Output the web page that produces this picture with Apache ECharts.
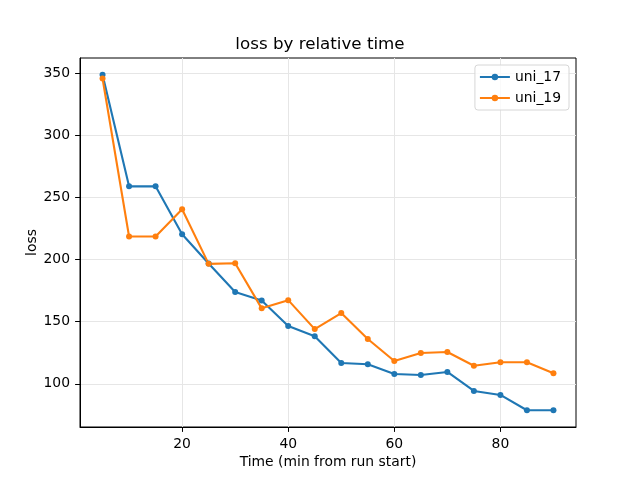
<!DOCTYPE html>
<html>
<head>
<meta charset="utf-8">
<script src="https://cdn.jsdelivr.net/npm/echarts@6/dist/echarts.min.js"></script>
<style>html,body{margin:0;padding:0;background:#fff}#c{width:640px;height:480px}</style>
</head>
<body>
<div id="c"></div>
<script>
var times = [5,10,15,20,25,30,35,40,45,50,55,60,65,70,75,80,85,90];
var uni17 = [348.7,258.9,258.9,220.4,196.8,173.8,167.1,146.5,138.2,116.7,115.7,107.9,107.0,109.5,94.2,91.0,78.7,78.7];
var uni19 = [345.7,218.5,218.5,240.5,196.5,197.0,160.7,167.3,144.0,156.9,136.0,118.3,124.8,125.6,114.5,117.3,117.3,108.4];
var xTicks = [20,40,60,80];
var yTicks = [100,150,200,250,300,350];
var seriesNames = ['uni_17','uni_19'];
var colors = ['#1f77b4','#ff7f0e'];

function pairs(xs, ys){ return xs.map(function(x,i){ return [x, ys[i]]; }); }
var allY = uni17.concat(uni19);
var yMin = Math.min.apply(null, allY), yMax = Math.max.apply(null, allY);
var yPad = (yMax - yMin) * 0.05;
var xMin = Math.min.apply(null, times), xMax = Math.max.apply(null, times);
var xPad = (xMax - xMin) * 0.05;
var font = 'DejaVu Sans';

var chart = echarts.init(document.getElementById('c'), null, {renderer:'canvas'});
chart.setOption({
  animation:false,
  backgroundColor:'#ffffff',
  textStyle:{fontFamily:font},
  title:{text:'loss by relative time', left:'center', top:31,
    textStyle:{fontFamily:font, fontSize:16.7, fontWeight:'normal', color:'#000'}},
  legend:{
    orient:'vertical', right:71, top:65,
    data:seriesNames,
    backgroundColor:'rgba(255,255,255,0.8)', borderColor:'#d6d6d6', borderWidth:1, borderRadius:3,
    padding:[5,8,5,4], itemWidth:30, itemHeight:8, itemGap:7,
    textStyle:{fontFamily:font, fontSize:13.9, color:'#000'}
  },
  grid:{left:80, right:64, top:58, bottom:53, show:true, borderColor:'#000', borderWidth:1, backgroundColor:'transparent'},
  xAxis:{
    type:'value', min:xMin - xPad, max:xMax + xPad,
    name:'Time (min from run start)', nameLocation:'middle', nameGap:28, nameMoveOverlap:false,
    nameTextStyle:{fontFamily:font, fontSize:13.9, color:'#000'},
    axisLine:{show:true, lineStyle:{color:'#000', width:1}},
    axisTick:{show:true, length:4.9, lineStyle:{color:'#000'}, customValues:xTicks},
    axisLabel:{fontFamily:font, fontSize:13.9, color:'#000', margin:10, customValues:xTicks},
    splitLine:{show:true, lineStyle:{color:'#e6e6e6', width:1}}
  },
  yAxis:{
    type:'value', min:yMin - yPad, max:yMax + yPad,
    name:'loss', nameLocation:'middle', nameGap:41, nameMoveOverlap:false,
    nameTextStyle:{fontFamily:font, fontSize:13.9, color:'#000'},
    axisLine:{show:true, lineStyle:{color:'#000', width:1}},
    axisTick:{show:true, length:4.9, lineStyle:{color:'#000'}, customValues:yTicks},
    axisLabel:{fontFamily:font, fontSize:13.9, color:'#000', margin:10, customValues:yTicks},
    splitLine:{show:true, lineStyle:{color:'#e6e6e6', width:1}}
  },
  series:[
    {name:seriesNames[0], type:'line', data:pairs(times, uni17), color:colors[0],
     symbol:'circle', symbolSize:6, showAllSymbol:true, lineStyle:{width:2.1}, itemStyle:{color:colors[0]}},
    {name:seriesNames[1], type:'line', data:pairs(times, uni19), color:colors[1],
     symbol:'circle', symbolSize:6, showAllSymbol:true, lineStyle:{width:2.1}, itemStyle:{color:colors[1]}}
  ]
});
</script>
</body>
</html>
